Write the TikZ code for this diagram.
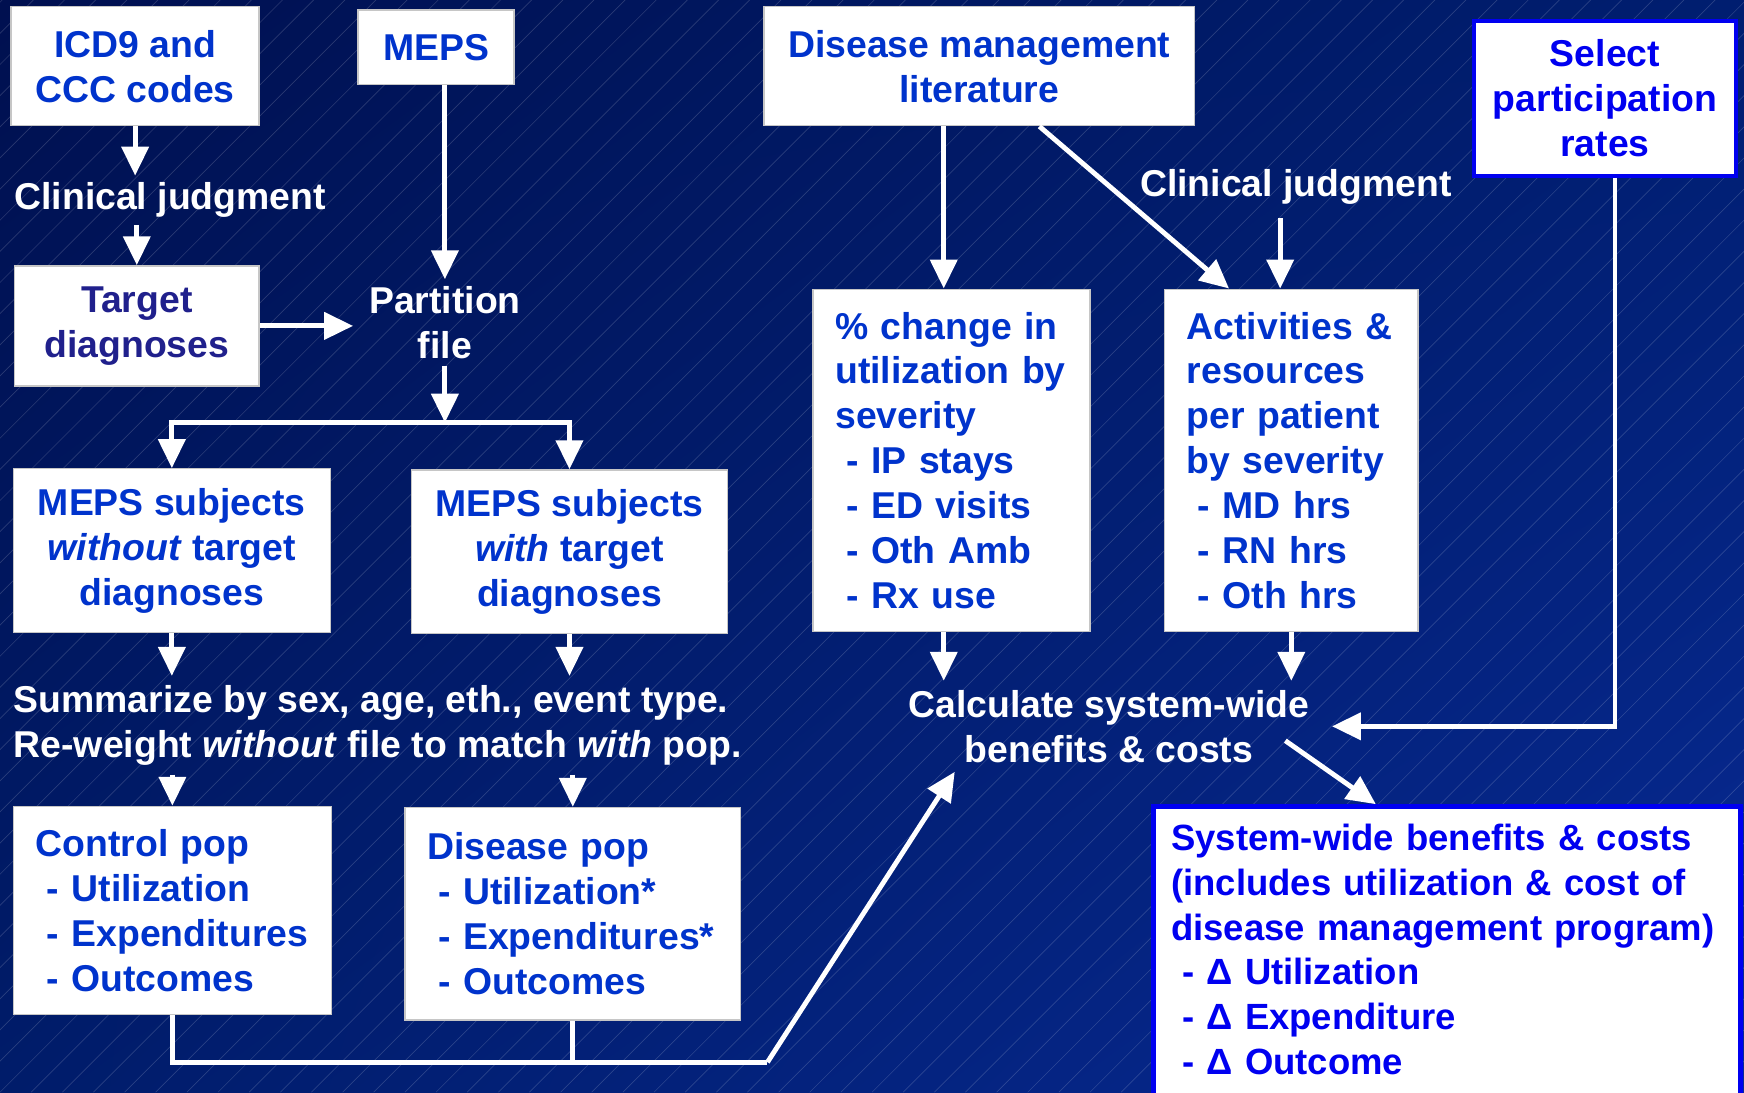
\documentclass[tikz,border=0pt]{standalone}
\usepackage{fontspec}
\setmainfont{Liberation Sans}
\usetikzlibrary{arrows.meta,positioning,shadings}
\definecolor{dmblue}{RGB}{0,51,204}
\definecolor{tgblue}{RGB}{32,32,140}
\definecolor{selblue}{RGB}{0,0,240}
\definecolor{bgtl}{RGB}{0,16,80}
\definecolor{bgtr}{RGB}{0,30,112}
\definecolor{bgbl}{RGB}{0,28,106}
\definecolor{bgbr}{RGB}{8,42,148}
\newcommand{\slidefont}{\fontsize{16.8}{20.2}\selectfont\bfseries}
\newcommand{\sysfont}{\fontsize{16.4}{20.1}\selectfont\bfseries}
\newcommand{\itm}{\hspace*{5pt}}

\begin{document}
\begin{tikzpicture}[x=0.5pt,y=-0.5pt,
	box/.style={draw=gray!45, line width=0.6pt, fill=white, text=dmblue, font=\slidefont, align=center, inner sep=0pt},
	listbox/.style={box, align=left, inner xsep=10pt},
	bluebox/.style={box, draw=selblue, line width=2pt, text=selblue},
	note/.style={text=white, font=\slidefont, align=center, inner sep=0pt},
	arr/.style={draw=white, line width=2.2pt, -{Triangle[width=12pt,length=13pt]}},
	con/.style={draw=white, line width=2.2pt}]
	\useasboundingbox (0,0) rectangle (1568,982);
	\clip (0,0) rectangle (1568,982);
	\shade[upper left=bgtl, upper right=bgtr, lower left=bgbl, lower right=bgbr] (0,0) rectangle (1568,982);
	\foreach \k in {-980,-952,...,1568}
		\draw[white, opacity=0.16, line width=0.3pt] (\k,982) -- ++(982,-982);

	\node[box, minimum width=111.5pt, minimum height=53.5pt] (icd) at (121.5,59.5) {ICD9 and\\CCC codes};
	\node[box, minimum width=70pt, minimum height=33.5pt] (meps) at (392,42.5) {MEPS};
	\node[box, minimum width=193.5pt, minimum height=53.5pt] (dml) at (880.5,59.5) {Disease management\\literature};
	\node[bluebox, minimum width=118pt, minimum height=69.5pt] (sel) at (1443,88.5) {Select\\participation\\rates};
	\node[note, inner ysep=3pt] (clinl) at (153,180) {Clinical judgment};
	\node[box, text=tgblue, minimum width=110pt, minimum height=54pt] (tgt) at (123,293) {Target\\diagnoses};
	\node[note, inner xsep=7pt, inner ysep=3pt] (part) at (400,290) {Partition\\file};
	\coordinate (split) at (400,380);
	\node[box, minimum width=142.5pt, minimum height=73.5pt] (wo) at (154.5,495) {MEPS subjects\\\textit{without} target\\diagnoses};
	\node[box, minimum width=142pt, minimum height=73.5pt] (wi) at (512,496) {MEPS subjects\\\textit{with} target\\diagnoses};
	\node[note, align=left, anchor=west, inner ysep=4pt] (summ) at (12,652) {Summarize by sex, age, eth., event type.\\Re-weight \textit{without} file to match \textit{with} pop.};
	\node[listbox, text width=104.5pt, minimum width=124.5pt, minimum height=154pt] (pct) at (855.5,414) {\% change in\\utilization by\\severity\\\itm- IP stays\\\itm- ED visits\\\itm- Oth Amb\\\itm- Rx use};
	\node[listbox, text width=94pt, minimum width=114pt, minimum height=154pt] (act) at (1161,414) {Activities \&\\resources\\per patient\\by severity\\\itm- MD hrs\\\itm- RN hrs\\\itm- Oth hrs};
	\node[note, inner ysep=6pt] (clinr) at (1165,168) {Clinical judgment};
	\node[note, inner ysep=4pt] (calc) at (997,653) {Calculate system-wide\\benefits \& costs};
	\node[listbox, text width=123pt, minimum width=143pt, minimum height=93.5pt] (ctrl) at (155,818.5) {Control pop\\\itm- Utilization\\\itm- Expenditures\\\itm- Outcomes};
	\node[listbox, text width=131pt, minimum width=151pt, minimum height=95.5pt] (dis) at (515,821.5) {Disease pop\\\itm- Utilization*\\\itm- Expenditures*\\\itm- Outcomes};
	\node[bluebox, font=\sysfont, align=left, inner xsep=8pt, inner ysep=8pt, text width=248pt, anchor=north west] (sys) at (1035,723) {System-wide benefits \& costs\\(includes utilization \& cost of\\disease management program)\\\itm- Δ Utilization\\\itm- Δ Expenditure\\\itm- Δ Outcome\\\mbox{}};
	\coordinate (join) at (690,955);

	\draw[arr] (icd.south) -- (icd.south |- clinl.north);
	\draw[arr] (tgt.north |- clinl.south) -- (tgt.north);
	\draw[arr] (part.north |- meps.south) -- (part.north);
	\draw[arr] (tgt.east) -- (tgt.east -| part.west);
	\draw[arr] (part.south) -- (split);
	\draw[arr] (split) -| (wo.north);
	\draw[arr] (split) -| (wi.north);
	\draw[arr] (wo.south) -- (wo.south |- summ.north);
	\draw[arr] (wi.south) -- (wi.south |- summ.north);
	\draw[arr] (ctrl.north |- summ.south) -- (ctrl.north);
	\draw[arr] (dis.north |- summ.south) -- (dis.north);
	\draw[con] (ctrl.south) |- (join);
	\draw[con] (dis.south) -- (dis.south |- join);
	\draw[arr] (join) -- ([xshift=21pt]calc.south west);
	\draw[arr] ([xshift=-3.5pt]pct.north |- dml.south) -- ([xshift=-3.5pt]pct.north);
	\draw[arr] ([xshift=27pt]dml.south) -- ([xshift=-28pt]act.north);
	\draw[arr] ([xshift=-5pt]act.north |- clinr.south) -- ([xshift=-5pt]act.north);
	\draw[arr] ([xshift=-3.5pt]pct.south) -- ([xshift=-3.5pt]pct.south |- calc.north);
	\draw[arr] (act.south) -- (act.south |- calc.north);
	\draw[arr] ([xshift=4.5pt]sel.south) |- ([xshift=10pt]calc.east);
	\draw[arr] ([xshift=-11pt,yshift=14pt]calc.south east) -- ([xshift=101pt]sys.north west);
\end{tikzpicture}
\end{document}
